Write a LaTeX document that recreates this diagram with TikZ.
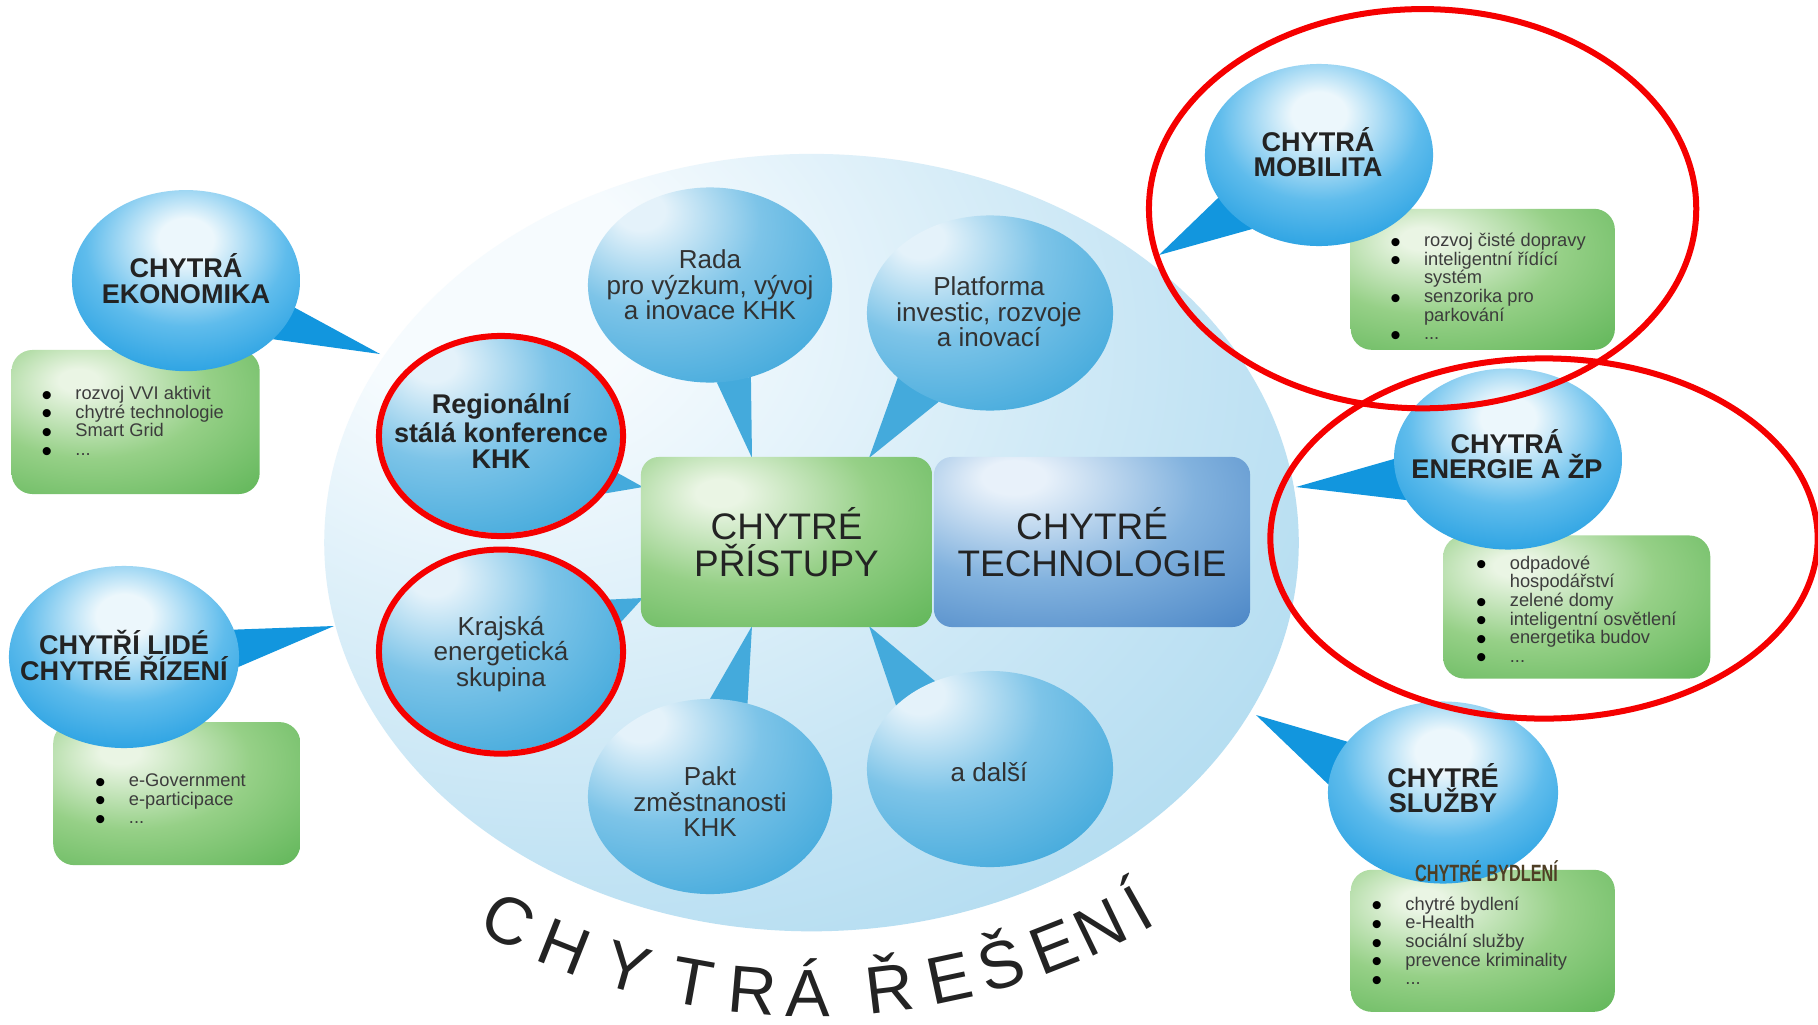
\documentclass[tikz,border=0pt]{standalone}
\usepackage{fontspec}
\setmainfont{Liberation Sans}
\usetikzlibrary{shapes.geometric}
\pgfdeclarelayer{bg}
\pgfdeclarelayer{tails}
\pgfsetlayers{bg,tails,main}

\definecolor{bubEdge}{RGB}{18,150,222}
\definecolor{bubMid}{RGB}{95,188,236}
\definecolor{bubHi}{RGB}{236,247,252}
\definecolor{inEdge}{RGB}{68,170,220}
\definecolor{inMid}{RGB}{125,196,232}
\definecolor{inHi}{RGB}{228,242,250}
\definecolor{grHi}{RGB}{234,245,228}
\definecolor{grMid}{RGB}{150,208,135}
\definecolor{grEdge}{RGB}{92,180,85}
\definecolor{grDark}{RGB}{52,160,58}
\definecolor{blHi}{RGB}{232,241,250}
\definecolor{blMid}{RGB}{130,178,222}
\definecolor{blEdge}{RGB}{70,130,196}
\definecolor{blDark}{RGB}{32,104,184}
\definecolor{bigHi}{RGB}{246,251,254}
\definecolor{bigMid}{RGB}{196,228,244}
\definecolor{bigEdge}{RGB}{160,212,237}
\definecolor{txt}{RGB}{35,35,35}
\definecolor{intxt}{RGB}{50,50,50}
\definecolor{listtxt}{RGB}{60,60,60}
\definecolor{redring}{RGB}{245,0,0}
\definecolor{bydl}{RGB}{78,62,36}

\pgfdeclareradialshading{outerbubsh}{\pgfpoint{0bp}{12bp}}{color(0bp)=(bubHi); color(6bp)=(bubHi); color(22bp)=(bubMid); color(40bp)=(bubEdge); color(100bp)=(bubEdge)}
\pgfdeclareradialshading{innerbubsh}{\pgfpoint{-15bp}{20bp}}{color(0bp)=(inHi); color(5bp)=(inHi); color(22bp)=(inMid); color(42bp)=(inEdge); color(100bp)=(inEdge)}
\pgfdeclareradialshading{greensh}{\pgfpoint{-12bp}{15bp}}{color(0bp)=(grHi); color(4bp)=(grHi); color(24bp)=(grMid); color(48bp)=(grEdge); color(72bp)=(grDark); color(100bp)=(grDark)}
\pgfdeclareradialshading{bluesh}{\pgfpoint{-13bp}{20bp}}{color(0bp)=(blHi); color(5bp)=(blHi); color(26bp)=(blMid); color(50bp)=(blEdge); color(72bp)=(blDark); color(100bp)=(blDark)}
\pgfdeclareradialshading{bigsh}{\pgfpoint{-18bp}{18bp}}{color(0bp)=(bigHi); color(8bp)=(bigHi); color(32bp)=(bigMid); color(52bp)=(bigEdge); color(100bp)=(bigEdge)}

\newcommand\listbul{\makebox[9.6pt][l]{\smash{\raisebox{-1.6pt}{\textcolor{black}{\fontsize{8.5}{5}\selectfont •}}}}}
\newcommand\listnob{\makebox[9.6pt][l]{}}
\newcommand\listfont{\fontsize{5.2}{5.3}\selectfont}

\begin{document}
\begin{tikzpicture}[x=0.01cm,y=-0.01cm,
  outerbub/.style={ellipse, shading=outerbubsh, inner sep=0pt, outer sep=0pt},
  innerbub/.style={ellipse, shading=innerbubsh, inner sep=0pt, outer sep=0pt},
  bigell/.style={ellipse, shading=bigsh, inner sep=0pt, outer sep=0pt},
  outertail/.style={fill=bubEdge},
  innertail/.style={fill=inEdge},
  listbox/.style={rectangle, rounded corners=0.21cm, shading=greensh, inner sep=0pt},
  centbox/.style={rectangle, rounded corners=0.18cm, inner sep=0pt, align=center, text=txt, font=\fontsize{10.5}{10.6}\selectfont},
  outtext/.style={inner sep=0pt, align=center, text=txt, font=\fontsize{7.7}{7.3}\selectfont\bfseries},
  intext/.style={inner sep=0pt, align=center, text=intxt, font=\fontsize{7.4}{7.25}\selectfont},
  regtext/.style={inner sep=0pt, align=center, text=txt, font=\fontsize{7.7}{7.25}\selectfont\bfseries},
  listtext/.style={inner sep=0pt, align=left, anchor=north west, text=listtxt, font=\listfont},
  ring/.style={ellipse, draw=redring, line width=0.06cm, inner sep=0pt},
  arcletter/.style={inner sep=0pt, anchor=base, text=txt, font=\fontsize{19}{21}\selectfont}
]
\useasboundingbox (0,0) rectangle (1818,1024);

\begin{pgfonlayer}{bg}
\fill[white] (0,0) rectangle (1818,1024);
\node[bigell, minimum width=9.74cm, minimum height=7.77cm] (sol) at (811.5,542.6) {};
\end{pgfonlayer}

% green list boxes
\node[listbox, minimum width=2.48cm, minimum height=1.44cm] (ekoB) at (135.6,422) {};
\node[listbox, minimum width=2.47cm, minimum height=1.43cm] (lidB) at (176.8,793.6) {};
\node[listbox, minimum width=2.64cm, minimum height=1.41cm] (mobB) at (1482.8,279.3) {};
\node[listbox, minimum width=2.67cm, minimum height=1.43cm] (eneB) at (1576.7,607) {};
\node[listbox, minimum width=2.64cm, minimum height=1.42cm] (sluB) at (1482.8,940.8) {};

% outer bubbles
\node[outerbub, minimum width=2.28cm, minimum height=1.81cm] (eko) at (186,280.6) {};
\node[outerbub, minimum width=2.30cm, minimum height=1.82cm] (lid) at (124,657) {};
\node[outerbub, minimum width=2.28cm, minimum height=1.82cm] (mob) at (1319,155) {};
\node[outerbub, minimum width=2.28cm, minimum height=1.81cm] (ene) at (1508,459) {};
\node[outerbub, minimum width=2.30cm, minimum height=1.82cm] (slu) at (1443,792.5) {};

% inner bubbles
\node[innerbub, minimum width=2.44cm, minimum height=1.95cm] (rada) at (710,285) {};
\node[innerbub, minimum width=2.46cm, minimum height=1.95cm] (plat) at (990,313) {};
\node[innerbub, minimum width=2.38cm, minimum height=1.94cm] (reg) at (501,436) {};
\node[innerbub, minimum width=2.38cm, minimum height=1.98cm] (kraj) at (501,651.6) {};
\node[innerbub, minimum width=2.44cm, minimum height=1.95cm] (pakt) at (710,796.5) {};
\node[innerbub, minimum width=2.46cm, minimum height=1.96cm] (dalsi) at (990,769) {};

% central boxes
\node[centbox, shading=greensh, minimum width=2.91cm, minimum height=1.70cm] (pri) at (786.5,542) {CHYTRÉ\\PŘÍSTUPY};
\node[centbox, shading=bluesh, minimum width=3.16cm, minimum height=1.70cm] (tech) at (1092,542) {CHYTRÉ\\TECHNOLOGIE};

% tails
\coordinate (ekoT) at (380,354);
\coordinate (lidT) at (334,626);
\coordinate (mobT) at (1159,255);
\coordinate (eneT) at (1296,487);
\coordinate (sluT) at (1256,715);
\coordinate (regT) at (643,487);
\coordinate (krajT) at (643,598);
\coordinate (radaT) at (752,458);
\coordinate (platT) at (869,458);
\coordinate (paktT) at (752,626);
\coordinate (dalsiT) at (869,626);
\begin{pgfonlayer}{tails}
\fill[outertail] (eko.-14) -- (ekoT) -- (eko.-34) -- cycle;
\fill[outertail] (lid.14) -- (lidT) -- (lid.-5) -- cycle;
\fill[outertail] (mob.203) -- (mobT) -- (mob.228) -- cycle;
\fill[outertail] (ene.180) -- (eneT) -- (ene.202) -- cycle;
\fill[outertail] (slu.152) -- (sluT) -- (slu.176) -- cycle;
\fill[innertail] (reg.-17) -- (regT) -- (reg.-32) -- cycle;
\fill[innertail] (kraj.12) -- (krajT) -- (kraj.27) -- cycle;
\fill[innertail] (rada.-86) -- (radaT) -- (rada.-66) -- cycle;
\fill[innertail] (plat.215) -- (platT) -- (plat.240) -- cycle;
\fill[innertail] (pakt.68) -- (paktT) -- (pakt.90) -- cycle;
\fill[innertail] (dalsi.122) -- (dalsiT) -- (dalsi.146) -- cycle;
\end{pgfonlayer}

% bubble texts
\node[outtext] (ekoX) at (186,278.3) {CHYTRÁ\\EKONOMIKA};
\node[outtext] (lidX) at (124,655.7) {CHYTŘÍ LIDÉ\\CHYTRÉ ŘÍZENÍ};
\node[outtext] (mobX) at (1318,152) {CHYTRÁ\\MOBILITA};
\node[outtext] (eneX) at (1507,454) {CHYTRÁ\\ENERGIE A ŽP};
\node[outtext] (sluX) at (1443,788) {CHYTRÉ\\SLUŽBY};

\node[intext] (radaX) at (710,285) {Rada\\pro výzkum, vývoj\\a inovace KHK};
\node[intext] (platX) at (989,312) {Platforma\\investic, rozvoje\\a inovací};
\node[regtext] (regX) at (501,431) {Regionální\\stálá konference\\KHK};
\node[intext] (krajX) at (501,654) {Krajská\\energetická\\skupina};
\node[intext] (paktX) at (710,802) {Pakt\\změstnanosti\\KHK};
\node[intext] (dalsiX) at (989,772) {a další};

% lists
\node[listtext] (ekoL) at (41,385.7) {\listbul rozvoj VVI aktivit\\ \listbul chytré technologie\\ \listbul Smart Grid\\ \listbul ...};
\node[listtext] (lidL) at (94.5,773) {\listbul e-Government\\ \listbul e-participace\\ \listbul ...};
\node[listtext] (mobL) at (1389.6,232.5) {\listbul rozvoj čisté dopravy\\ \listbul inteligentní řídící\\ \listnob systém\\ \listbul senzorika pro\\ \listnob parkování\\ \listbul ...};
\node[listtext] (eneL) at (1475.4,555) {\listbul odpadové\\ \listnob hospodářství\\ \listbul zelené domy\\ \listbul inteligentní osvětlení\\ \listbul energetika budov\\ \listbul ...};
\node[listtext] (sluL) at (1371,896) {\listbul chytré bydlení\\ \listbul e-Health\\ \listbul sociální služby\\ \listbul prevence kriminality\\ \listbul ...};

\node[inner sep=0pt, text=bydl, xscale=0.69, font=\fontsize{6.7}{7}\selectfont\bfseries] (bydl) at (1486.5,871.5) {CHYTRÉ BYDLENÍ};

% red rings
\node[ring, minimum width=2.44cm, minimum height=2.00cm] (regR) at (501,436) {};
\node[ring, minimum width=2.44cm, minimum height=2.04cm] (krajR) at (501,651.6) {};
\node[ring, minimum width=5.47cm, minimum height=3.99cm] (mobR) at (1422.6,208.7) {};
\node[ring, minimum width=5.47cm, minimum height=3.60cm] (eneR) at (1544,538.5) {};

% curved title
\coordinate (arcC) at (810.4,326.4);
\foreach \a/\c [count=\i, evaluate=\a as \r using \a+90] in {243.1/C,248.4/H,254.1/Y,259.8/T,265/R,269.8/Á,276.8/Ř,282/E,286.6/Š,291.4/E,295.8/N,299.4/Í}
  \node[arcletter, rotate=\r] (arc\i) at ([shift={(-\a:690)}]arcC) {\c};
\end{tikzpicture}
\end{document}
